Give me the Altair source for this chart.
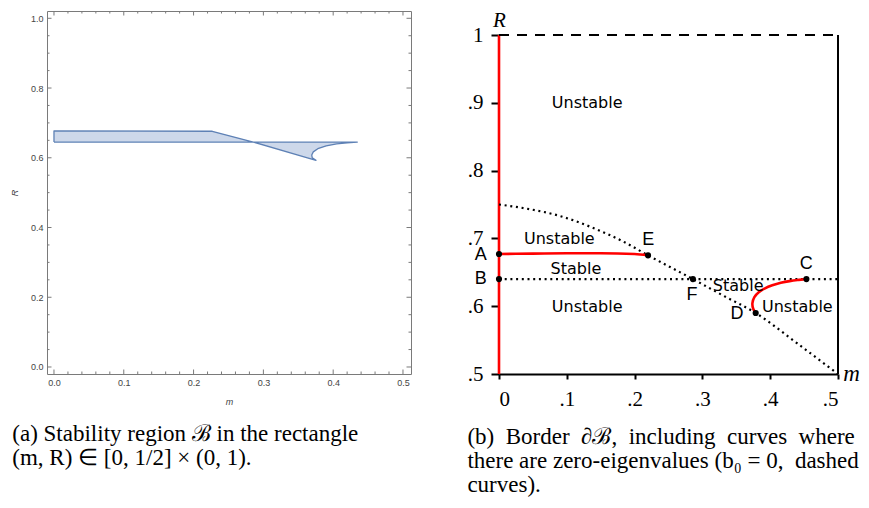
import altair as alt
import pandas as pd

# ---------------- panel (a): stability region ----------------
region_m = [0.0, 0.0, 0.2268, 0.2856, 0.3754, 0.3700, 0.3693, 0.3715, 0.3780, 0.3900, 0.4050, 0.4200, 0.4346, 0.2856, 0.0]
region_R = [0.645, 0.677, 0.676, 0.645, 0.5927, 0.600, 0.608, 0.617, 0.626, 0.634, 0.640, 0.643, 0.645, 0.645, 0.645]

a_x_major = [0.0, 0.1, 0.2, 0.3, 0.4, 0.5]
a_x_minor = [0.02, 0.04, 0.06, 0.08, 0.12, 0.14, 0.16, 0.18, 0.22, 0.24, 0.26, 0.28,
             0.32, 0.34, 0.36, 0.38, 0.42, 0.44, 0.46, 0.48]
a_y_major = [0.0, 0.2, 0.4, 0.6, 0.8, 1.0]
a_y_minor = [0.05, 0.1, 0.15, 0.25, 0.3, 0.35, 0.45, 0.5, 0.55, 0.65, 0.7, 0.75, 0.85, 0.9, 0.95]

# ---------------- panel (b): border of the region ----------------
x_ticks_b = [0.0, 0.1, 0.2, 0.3, 0.4, 0.5]
y_ticks_b = [0.5, 0.6, 0.7, 0.8, 0.9, 1.0]

AE_m = [0.0, 0.05, 0.1, 0.15, 0.2, 0.2198]
AE_R = [0.677, 0.6775, 0.678, 0.678, 0.677, 0.675]

DC_m = [0.3786, 0.3745, 0.3730, 0.3760, 0.3830, 0.3910, 0.4030, 0.4155, 0.4290, 0.4400, 0.4534]
DC_R = [0.590, 0.596, 0.604, 0.614, 0.621, 0.626, 0.631, 0.6347, 0.6372, 0.6386, 0.640]

b0_curve_m = [0.0, 0.04, 0.09, 0.135, 0.184, 0.2198, 0.25, 0.286, 0.33, 0.3786, 0.44, 0.5]
b0_curve_R = [0.75, 0.744, 0.733, 0.717, 0.695, 0.675, 0.659, 0.640, 0.616, 0.590, 0.545, 0.5]

b0_line_m = [0.0, 0.5]
b0_line_R = [0.640, 0.640]

pt_names = ["A", "B", "E", "F", "D", "C"]
pt_m = [0.0, 0.0, 0.2198, 0.286, 0.3786, 0.4534]
pt_R = [0.677, 0.640, 0.675, 0.640, 0.590, 0.640]
lab_m = [-0.027, -0.027, 0.220, 0.2845, 0.351, 0.453]
lab_R = [0.676, 0.640, 0.698, 0.617, 0.589, 0.6624]

zone_text = ["Unstable", "Unstable", "Stable", "Unstable", "Stable", "Unstable"]
zone_m = [0.130, 0.089, 0.1134, 0.130, 0.3528, 0.440]
zone_R = [0.900, 0.699, 0.6546, 0.5985, 0.6302, 0.5985]

# ================= panel (a) =================
W1, H1 = 364, 363
xs1 = alt.Scale(domain=[-0.0100, 0.5115], nice=False, zero=False)
ys1 = alt.Scale(domain=[-0.0201, 1.0209], nice=False, zero=False)
GRAY = "#444444"
FR = "#7a7a7a"

ax_x1 = alt.Axis(values=a_x_major, format=".1f", ticks=False, domain=False, grid=False,
                 labelFont="Liberation Sans", labelFontSize=9, labelColor=GRAY, labelPadding=4,
                 title="m", titleFont="Liberation Sans", titleFontSize=9, titleFontStyle="italic",
                 titleFontWeight="normal", titleColor=GRAY, titleX=W1 / 2, titleY=27.8,
                 titleAlign="center", titleBaseline="middle")
ax_y1 = alt.Axis(values=a_y_major, format=".1f", ticks=False, domain=False, grid=False,
                 labelFont="Liberation Sans", labelFontSize=9, labelColor=GRAY, labelPadding=4,
                 title="R", titleFont="Liberation Sans", titleFontSize=9, titleFontStyle="italic",
                 titleFontWeight="normal", titleColor=GRAY, titleAngle=270, titleX=-32.4,
                 titleY=H1 / 2, titleAlign="center", titleBaseline="middle")

region_df = pd.DataFrame({"m": region_m, "R": region_R, "i": list(range(len(region_m)))})
region = alt.Chart(region_df).mark_line(
    fill="#cdd8ea", stroke="#5e81b5", strokeWidth=1.3, strokeJoin="round"
).encode(
    x=alt.X("m:Q", scale=xs1, axis=ax_x1),
    y=alt.Y("R:Q", scale=ys1, axis=ax_y1),
    order="i:Q",
)

xmaj = pd.DataFrame({"m": a_x_major})
xmin = pd.DataFrame({"m": a_x_minor})
ymaj = pd.DataFrame({"R": a_y_major})
ymin = pd.DataFrame({"R": a_y_minor})

def xt(df, y0, y1):
    return alt.Chart(df).mark_rule(color=FR, strokeWidth=1).encode(
        x=alt.X("m:Q", scale=xs1, axis=ax_x1), y=alt.value(y0), y2=alt.value(y1))

def yt(df, x0, x1):
    return alt.Chart(df).mark_rule(color=FR, strokeWidth=1).encode(
        y=alt.Y("R:Q", scale=ys1, axis=ax_y1), x=alt.value(x0), x2=alt.value(x1))

ticks_a = [
    xt(xmaj, H1, H1 - 4.5), xt(xmin, H1, H1 - 2.5),
    xt(xmaj, 0, 4.5), xt(xmin, 0, 2.5),
    yt(ymaj, 0, 4.5), yt(ymin, 0, 2.5),
    yt(ymaj, W1, W1 - 4.5), yt(ymin, W1, W1 - 2.5),
]

CAP_FONT = "Liberation Serif"
CAP_SIZE = 23

panel_a = alt.layer(region, *ticks_a).properties(
    width=W1, height=H1,
    view=alt.ViewBackground(stroke=FR, strokeWidth=1),
    title=alt.TitleParams(
        text=["(a) Stability region \u212c in the rectangle",
              "(m, R) \u2208 [0, 1/2] \u00d7 (0, 1)."],
        orient="bottom", anchor="start", frame="group", dx=-34.7, offset=16.5,
        font=CAP_FONT, fontSize=CAP_SIZE, fontWeight="normal", color="black",
        lineHeight=24, baseline="top"),
)

# ================= panel (b) =================
W2, H2 = 339, 363
xs2 = alt.Scale(domain=[0.0, 0.5], nice=False, zero=False)
ys2 = alt.Scale(domain=[0.5, 0.5 + H2 / 678.0], nice=False, zero=False)
SERIF = "Liberation Serif"

ax_x2 = alt.Axis(values=x_ticks_b,
                 labelExpr="datum.value == 0 ? '0' : replace(format(datum.value, '.1f'), '0.', '.')",
                 tickSize=5, tickWidth=2, tickColor="black", domain=True, domainColor="black",
                 domainWidth=2, grid=False, labelFont=SERIF, labelFontSize=21, labelColor="black",
                 labelPadding=9, title="m", titleFont=SERIF, titleFontStyle="italic",
                 titleFontSize=23, titleFontWeight="normal", titleColor="black",
                 titleX=352, titleY=-1, titleAlign="center", titleBaseline="middle")
ax_y2 = alt.Axis(values=y_ticks_b,
                 labelExpr="datum.value == 1 ? '1' : replace(format(datum.value, '.1f'), '0.', '.')",
                 tickSize=8, tickWidth=2, tickColor="black", domain=False, grid=False,
                 labelFont=SERIF, labelFontSize=21, labelColor="black", labelPadding=8,
                 title="R", titleFont=SERIF, titleFontStyle="italic", titleFontSize=21,
                 titleFontWeight="normal", titleColor="black", titleAngle=0, titleX=0, titleY=-2,
                 titleAlign="center", titleBaseline="top")

X2 = lambda f="m": alt.X(f"{f}:Q", scale=xs2, axis=ax_x2)
Y2 = lambda f="R": alt.Y(f"{f}:Q", scale=ys2, axis=ax_y2)

edges_df = pd.DataFrame({"m": [0.0, 0.5], "R": [0.5, 0.5], "R2": [1.0, 1.0]})
left_red = alt.Chart(edges_df.iloc[[0]]).mark_rule(color="red", strokeWidth=2.6).encode(
    x=X2(), y=Y2(), y2="R2:Q")
right_black = alt.Chart(edges_df.iloc[[1]]).mark_rule(color="black", strokeWidth=2).encode(
    x=X2(), y=Y2(), y2="R2:Q")
top_df = pd.DataFrame({"m": [0.0], "m2": [0.5], "R": [1.0]})
top_dash = alt.Chart(top_df).mark_rule(color="black", strokeWidth=2, strokeDash=[10, 8]).encode(
    x=X2(), x2="m2:Q", y=Y2())

b0_line = alt.Chart(pd.DataFrame({"m": b0_line_m, "R": b0_line_R})).mark_line(
    color="black", strokeWidth=2.2, strokeDash=[2, 3.7]).encode(x=X2(), y=Y2())
b0_curve = alt.Chart(pd.DataFrame({"m": b0_curve_m, "R": b0_curve_R,
                                   "i": list(range(len(b0_curve_m)))})).mark_line(
    color="black", strokeWidth=2.2, strokeDash=[2, 3.7], interpolate="monotone").encode(
    x=X2(), y=Y2(), order="i:Q")
ae = alt.Chart(pd.DataFrame({"m": AE_m, "R": AE_R, "i": list(range(len(AE_m)))})).mark_line(
    color="red", strokeWidth=2.6, interpolate="monotone").encode(x=X2(), y=Y2(), order="i:Q")
dc = alt.Chart(pd.DataFrame({"m": DC_m, "R": DC_R, "i": list(range(len(DC_m)))})).mark_line(
    color="red", strokeWidth=2.6, interpolate="basis").encode(x=X2(), y=Y2(), order="i:Q")

pts = alt.Chart(pd.DataFrame({"m": pt_m, "R": pt_R})).mark_circle(
    color="black", size=38, opacity=1).encode(x=X2(), y=Y2())
letters = alt.Chart(pd.DataFrame({"m": lab_m, "R": lab_R, "t": pt_names})).mark_text(
    font="Liberation Sans", fontSize=18, color="black", align="center", baseline="middle").encode(
    x=X2(), y=Y2(), text="t:N")
zones = alt.Chart(pd.DataFrame({"m": zone_m, "R": zone_R, "t": zone_text})).mark_text(
    font="DejaVu Sans", fontSize=16, color="black", align="center", baseline="middle").encode(
    x=X2(), y=Y2(), text="t:N")

NB = "\u00a0"
cap_b = ["(b)" + NB * 2 + "Border" + NB * 2 + "\u2202\u212c," + NB * 2 + "including" + NB * 2
         + "curves" + NB * 2 + "where",
         "there are zero-eigenvalues (b\u2080 = 0," + NB + " dashed",
         "curves)."]

panel_b = alt.layer(left_red, right_black, top_dash, b0_line, b0_curve, ae, dc, pts, letters, zones).properties(
    width=W2, height=H2,
    view=alt.ViewBackground(stroke="transparent"),
    title=alt.TitleParams(
        text=cap_b, orient="bottom", anchor="start", frame="group", dx=-31.6, offset=17.3,
        font=CAP_FONT, fontSize=CAP_SIZE, fontWeight="normal", color="black", lineHeight=24,
        baseline="top"),
)

chart = alt.hconcat(panel_a, panel_b, spacing=88, bounds="flush").properties(
    padding={"left": 2, "top": 0, "right": 0, "bottom": 0},
).configure_view(stroke="transparent").configure(background="white")

chart.save("out.html", embed_options={"renderer": "svg", "actions": False})
